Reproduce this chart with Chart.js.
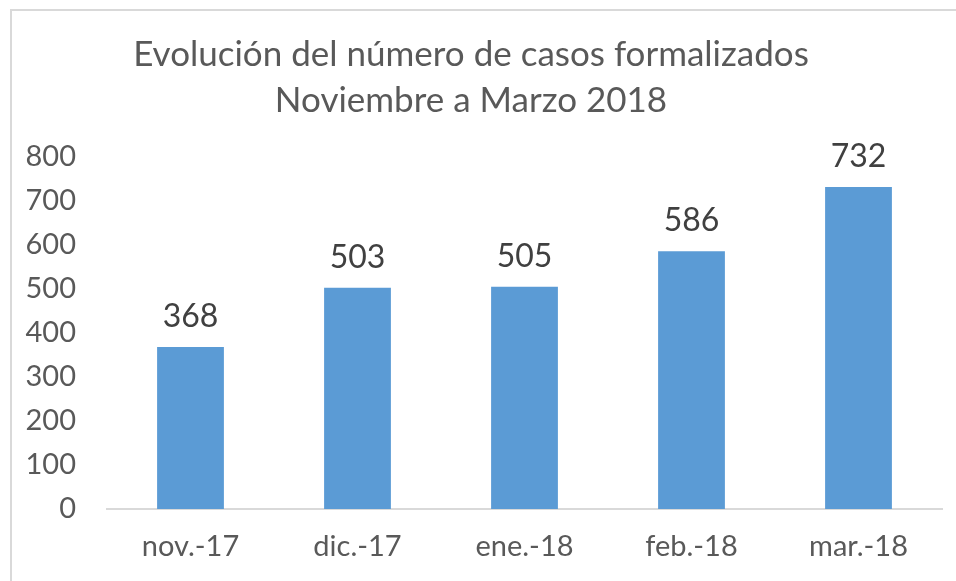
<!DOCTYPE html>
<html>
<head>
<meta charset="utf-8">
<script src="https://cdn.jsdelivr.net/npm/chart.js@4/dist/chart.umd.min.js"></script>
<style>
html,body{margin:0;padding:0;background:#fff;overflow:hidden;}
#wrap{position:absolute;left:0;top:0;width:956px;height:581px;}
#frame{position:absolute;left:10px;top:9px;width:1000px;height:700px;border:2px solid #d9d9d9;box-sizing:border-box;pointer-events:none;}
</style>
</head>
<body>
<div id="wrap"><canvas id="c" width="956" height="581"></canvas></div>
<div id="frame"></div>
<script>
const categories = ["nov.-17", "dic.-17", "ene.-18", "feb.-18", "mar.-18"];
const casos = [368, 503, 505, 586, 732];
const titleLines = ["Evolución del número de casos formalizados", "Noviembre a Marzo 2018"];
const yTicks = { min: 0, max: 800, step: 100 };

const FONT = "Lato, 'Open Sans', sans-serif";
const GREY = "#595959";

const valueLabels = {
  id: "valueLabels",
  afterDatasetsDraw(chart) {
    const ctx = chart.ctx;
    const meta = chart.getDatasetMeta(0);
    ctx.save();
    ctx.font = "32px " + FONT;
    ctx.fillStyle = "#404040";
    ctx.textAlign = "center";
    ctx.textBaseline = "bottom";
    meta.data.forEach((bar, i) => {
      ctx.fillText(String(casos[i]), bar.x, bar.y - 14);
    });
    ctx.restore();
  }
};

new Chart(document.getElementById("c"), {
  type: "bar",
  data: {
    labels: categories,
    datasets: [{
      data: casos,
      backgroundColor: "#5b9bd5",
      borderWidth: 0,
      barPercentage: 0.4,
      categoryPercentage: 1.0
    }]
  },
  options: {
    responsive: false,
    animation: false,
    layout: { padding: { left: 0, right: 14, top: 14, bottom: 0 } },
    plugins: {
      legend: { display: false },
      tooltip: { enabled: false },
      title: {
        display: true,
        text: titleLines,
        color: GREY,
        font: { family: FONT, size: 35, weight: "normal", lineHeight: 1.3 },
        padding: { top: 18, bottom: 34 }
      }
    },
    scales: {
      x: {
        afterFit(scale) { scale.height = 72; },
        grid: { display: false, drawTicks: false },
        border: { display: true, color: "#d9d9d9", width: 2 },
        ticks: { color: GREY, font: { family: FONT, size: 29 }, padding: 20 }
      },
      y: {
        min: yTicks.min,
        max: yTicks.max,
        afterFit(scale) { scale.width = 107; },
        grid: { display: false, drawTicks: false },
        border: { display: false },
        ticks: { stepSize: yTicks.step, color: GREY, font: { family: FONT, size: 29 }, padding: 31 }
      }
    }
  },
  plugins: [valueLabels]
});
</script>
</body>
</html>
